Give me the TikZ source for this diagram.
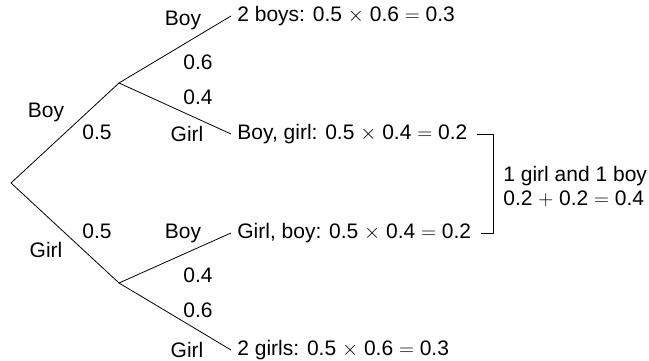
\documentclass[tikz,border=0pt]{standalone}
\usepackage{fontspec}
\setmainfont{Liberation Sans}
\usepackage{tikz}

\begin{document}
\begin{tikzpicture}[x=1pt,y=1pt,line width=0.8pt,
    every node/.style={font=\fontsize{21}{24}\selectfont},
    outcome/.style={anchor=west,inner sep=6pt}]
    \useasboundingbox (0,0) rectangle (649,361);

    % branch points
    \coordinate (root) at (11,178);
    \coordinate (b) at (119,278);
    \coordinate (g) at (119,78);

    % outcomes
    \node[outcome] (bb) at (231,345) {2 boys: 0.5 $\times$ 0.6 $=$ 0.3};
    \node[outcome] (bg) at (231,227) {Boy, girl: 0.5 $\times$ 0.4 $=$ 0.2};
    \node[outcome] (gb) at (231,128) {Girl, boy: 0.5 $\times$ 0.4 $=$ 0.2};
    \node[outcome] (gg) at (231,11) {2 girls: 0.5 $\times$ 0.6 $=$ 0.3};

    \draw (root) -- (b) -- (bb.west);
    \draw (b) -- (bg.west);
    \draw (root) -- (g) -- (gb.west);
    \draw (g) -- (gg.west);

    % branch labels
    \node at (46,249) {Boy};
    \node at (97,229) {0.5};
    \node at (46,111) {Girl};
    \node at (97,130) {0.5};

    \node at (183,341) {Boy};
    \node at (198,299) {0.6};
    \node at (198,264) {0.4};
    \node at (187,227) {Girl};

    \node at (183,128) {Boy};
    \node at (198,86) {0.4};
    \node at (198,51) {0.6};
    \node at (187,11) {Girl};

    % bracket
    \coordinate (brk) at (493,227);
    \draw ([xshift=3pt]bg.east) -- (brk) |- ([xshift=3pt]gb.east);
    \node[anchor=west,align=left,inner sep=0pt] (mix) at (503,174)
        {1 girl and 1 boy\\0.2 $+$ 0.2 $=$ 0.4};
\end{tikzpicture}
\end{document}
